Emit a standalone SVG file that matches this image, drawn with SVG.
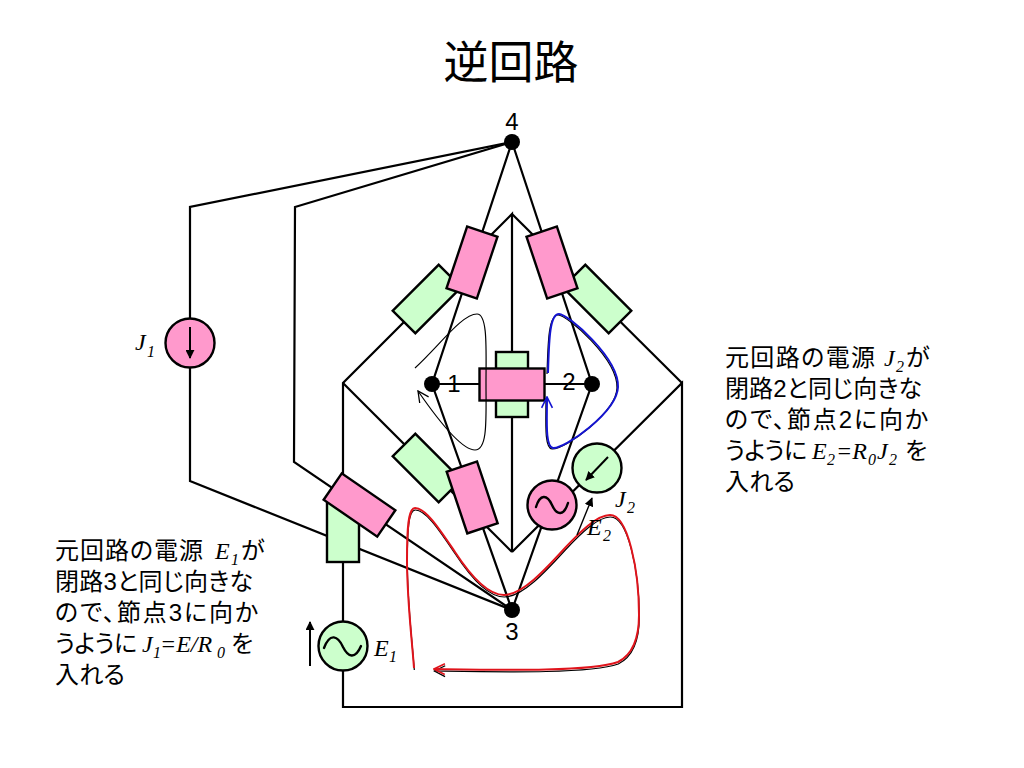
<svg xmlns="http://www.w3.org/2000/svg" width="1024" height="768" viewBox="0 0 1024 768">
<style>
.w{fill:none;stroke:#000;stroke-width:2.2;stroke-linejoin:miter}
.p{fill:#ff99cc;stroke:#000;stroke-width:2.4}
.g{fill:#ccffcc;stroke:#000;stroke-width:2.4}
.n{fill:#000}
.s{fill:none;stroke:#000;stroke-width:2.4;stroke-linecap:round}
.ar{fill:none;stroke:#000;stroke-width:2}
.thin{fill:none;stroke:#000;stroke-width:1.2}
.red{fill:none;stroke:#e0141c;stroke-width:2}
.blue{fill:none;stroke:#1414d0;stroke-width:2}
.t{font-family:"Liberation Sans","Noto Sans CJK JP",sans-serif;font-size:24px;fill:#000;font-feature-settings:"palt"}
.l{font-family:"Liberation Sans",sans-serif;font-size:24px;fill:#000;text-anchor:middle}
.i{font-family:"Liberation Serif",serif;font-style:italic;font-size:24px;fill:#000}
.sub{font-family:"Liberation Serif",serif;font-style:italic;font-size:16px;fill:#000}
</style>
<defs>
<marker id="tri" viewBox="0 0 10 10" refX="9" refY="5" markerWidth="9" markerHeight="9" markerUnits="userSpaceOnUse" orient="auto"><path d="M0,0L10,5L0,10z" fill="#000"/></marker>
<marker id="ob" viewBox="0 0 12 12" refX="11" refY="6" markerWidth="13" markerHeight="13" markerUnits="userSpaceOnUse" orient="auto"><path d="M1,1L11,6L1,11" fill="none" stroke="#000" stroke-width="1.2"/></marker>
<marker id="obl" viewBox="0 0 12 12" refX="11" refY="6" markerWidth="13" markerHeight="13" markerUnits="userSpaceOnUse" orient="auto"><path d="M1,1L11,6L1,11" fill="none" stroke="#1414d0" stroke-width="1.5"/></marker>
<marker id="ord" viewBox="0 0 12 12" refX="11" refY="6" markerWidth="13" markerHeight="13" markerUnits="userSpaceOnUse" orient="auto"><path d="M1,1L11,6L1,11" fill="none" stroke="#e0141c" stroke-width="1.5"/></marker>
</defs>
<text id="title" x="511" y="79" font-family="'Noto Sans CJK JP',sans-serif" font-size="45" text-anchor="middle">逆回路</text>
<g id="connectors">
<path class="w" d="M512,142L190,207V481L512,610"/>
<path class="w" d="M512,142L295,207L294,462L512,610"/>
<path class="w" d="M512,142L432,384L512,610L592,384L512,142"/>
<path class="w" d="M432,384H592"/>
<path class="w" d="M512,552V214L343,383V707H682V383L512,552"/>
<path class="w" d="M512,214L682,383"/>
<path class="w" d="M343,383L512,552"/>
</g>
<g id="rLeftTopGreen"><rect class="g" x="394.500" y="283" width="65" height="32" transform="rotate(-45 427 299)"/></g>
<g id="rRightTopGreen"><rect class="g" x="564.500" y="283" width="65" height="32" transform="rotate(45 597 299)"/></g>
<g id="rLeftBotGreen"><rect class="g" x="394.500" y="452" width="65" height="32" transform="rotate(45 427 468)"/></g>
<g id="rCenterGreen"><rect class="g" x="496" y="352" width="32" height="65"/></g>
<g id="rLeftTopPink"><rect class="p" x="456" y="230" width="32" height="65" transform="rotate(18.500 472 262.500)"/></g>
<g id="rRightTopPink"><rect class="p" x="536" y="230" width="32" height="65" transform="rotate(-18.500 552 262.500)"/></g>
<g id="rLeftBotPink"><rect class="p" x="456" y="465" width="32" height="65" transform="rotate(-18.500 472 497)"/></g>
<g id="rCenterPink"><rect class="p" x="479.500" y="368.500" width="65" height="32"/></g>
<g id="rE1Green"><rect class="g" x="327" y="498" width="32" height="64"/></g>
<g id="rE1Pink"><rect class="p" x="327" y="489" width="65" height="32" transform="rotate(34.500 359.500 505)"/></g>
<g id="srcJ1"><circle class="p" cx="190" cy="343" r="24.500"/><path class="ar" d="M190,327V358" marker-end="url(#tri)"/></g>
<g id="srcE1"><circle class="g" cx="343" cy="646" r="24.500"/><path class="s" d="M324,648C330,632 338,636 343,647C348,657 355,660 361,646"/></g>
<g id="srcE2"><circle class="p" cx="552" cy="505" r="24.500"/><path class="s" d="M536,507C540,494 547,494 552,505C557,516 564,516 568,503"/></g>
<g id="srcJ2"><circle class="g" cx="597" cy="468" r="24.500"/><path class="ar" d="M608,457L586,480" marker-end="url(#tri)"/></g>
<g id="node4"><circle class="n" cx="512" cy="142" r="8"/><text class="l" x="512" y="130">4</text></g>
<g id="node3"><circle class="n" cx="512" cy="610" r="8"/><text class="l" x="512" y="640">3</text></g>
<g id="node1"><circle class="n" cx="432" cy="384" r="8"/><text class="l" x="454" y="392">1</text></g>
<g id="node2"><circle class="n" cx="592" cy="384" r="8"/><text class="l" x="569" y="390">2</text></g>
<g id="loops">
<path class="thin" d="M415,368C440,345 462,314 477,314C488,314 486,350 486,384C486,418 488,450 475,450C462,450 438,420 418,391" marker-end="url(#ob)"/>
<path class="thin" transform="translate(-1,1)" d="M548,373C549,345 549,314 559,314C568,314 619,358 618,387C617,412 565,449 553,448C545,447 547,420 547,397"/>
<path class="blue" d="M548,373C549,345 549,314 559,314C568,314 619,358 618,387C617,412 565,449 553,448C545,447 547,420 547,397" marker-end="url(#obl)"/>
<path class="thin" transform="translate(.3,2)" d="M414,668C412,640 407,600 407,560C407,530 408,508 415,508C426,508 440,530 455,552C470,575 488,595 504,595C522,595 545,570 565,548C580,532 597,515 610,515C628,515 639,570 639,615C639,640 632,655 618,662C590,672 500,670 434,669" marker-end="url(#ob)"/>
<path class="red" d="M414,668C412,640 407,600 407,560C407,530 408,508 415,508C426,508 440,530 455,552C470,575 488,595 504,595C522,595 545,570 565,548C580,532 597,515 610,515C628,515 639,570 639,615C639,640 632,655 618,662C590,672 500,670 434,669" marker-end="url(#ord)"/>
<path class="ar" d="M577,535L592,498" style="stroke-width:1.400" marker-end="url(#tri)"/>
<path class="ar" d="M310,666V622" marker-end="url(#tri)"/>
</g>
<g id="varLabels">
<text class="i" x="135" y="350">J</text><text class="sub" x="147" y="357">1</text>
<text class="i" x="374" y="656">E</text><text class="sub" x="389" y="662">1</text>
<text class="i" x="587" y="535">E</text><text class="sub" x="603" y="541">2</text>
<text class="i" x="615" y="507">J</text><text class="sub" x="627" y="513">2</text>
</g>
<g id="noteLeft">
<text class="t" x="55" y="559" textLength="148">元回路の電源</text><text class="i" x="215" y="559">E</text><text class="sub" x="231" y="565">1</text><text class="t" x="241" y="559">が</text>
<text class="t" x="55" y="590" textLength="198">閉路3と同じ向きな</text>
<text class="t" x="55" y="621" textLength="203">ので、節点3に向か</text>
<text class="t" x="55" y="652" textLength="82">うように</text><text class="i" x="142" y="652">J</text><text class="sub" x="153" y="658">1</text><text class="i" x="160" y="652">=E/R</text><text class="sub" x="217" y="658">0</text><text class="t" x="231" y="652">を</text>
<text class="t" x="55" y="683" textLength="70">入れる</text>
</g>
<g id="noteRight">
<text class="t" x="725" y="366" textLength="150">元回路の電源</text><text class="i" x="884" y="366">J</text><text class="sub" x="896" y="372">2</text><text class="t" x="906" y="366">が</text>
<text class="t" x="725" y="397" textLength="197">閉路2と同じ向きな</text>
<text class="t" x="725" y="428" textLength="203">ので、節点2に向か</text>
<text class="t" x="725" y="459" textLength="82">うように</text><text class="i" x="812" y="459">E</text><text class="sub" x="827" y="465">2</text><text class="i" x="836" y="459">=R</text><text class="sub" x="868" y="465">0</text><text class="i" x="877" y="459">J</text><text class="sub" x="889" y="465">2</text><text class="t" x="905" y="459">を</text>
<text class="t" x="725" y="490" textLength="70">入れる</text>
</g>
</svg>
